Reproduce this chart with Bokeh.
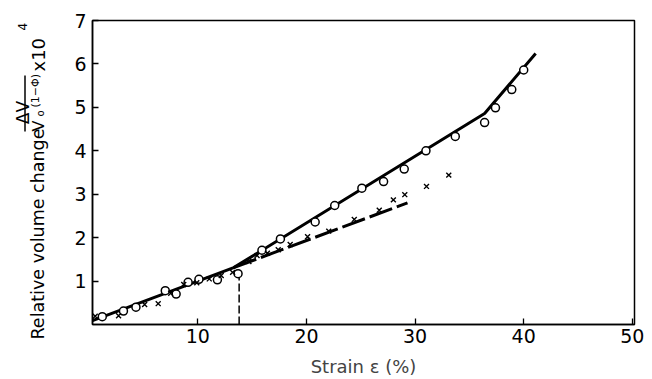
import math
from bokeh.plotting import figure
from bokeh.models import Range1d, FixedTicker, Label
from bokeh.layouts import row
from bokeh.embed import file_html
from bokeh.resources import INLINE

# Data
circle_x = [1.2, 3.15, 4.3, 7.0, 8.0, 9.1, 10.1, 11.8, 13.7, 15.9, 17.6, 20.8, 22.6,
            25.1, 27.1, 29.0, 31.0, 33.7, 36.4, 37.4, 38.9, 40.0]
circle_y = [0.18, 0.31, 0.40, 0.78, 0.70, 0.97, 1.04, 1.03, 1.17, 1.71, 1.97, 2.36, 2.74,
            3.14, 3.29, 3.58, 4.00, 4.33, 4.65, 4.99, 5.41, 5.86]
cross_x = [0.55, 2.7, 5.1, 6.35, 7.5, 8.7, 9.9, 11.05, 12.15, 13.2, 14.7, 15.45, 16.4,
           17.4, 18.5, 20.1, 22.05, 24.4, 26.7, 28.0, 29.05, 31.05, 33.1]
cross_y = [0.19, 0.20, 0.46, 0.48, 0.72, 0.92, 0.96, 1.05, 1.13, 1.20, 1.45, 1.59, 1.64,
           1.72, 1.84, 2.02, 2.15, 2.42, 2.63, 2.87, 2.99, 3.18, 3.44]
fit_solid_x = [0.3, 13.3, 36.4, 41.1]
fit_solid_y = [0.09, 1.31, 4.86, 6.24]
fit_dash_x = [13.3, 29.3]
fit_dash_y = [1.31, 2.80]
marker_line_x = [13.8, 13.8]
marker_line_y = [0.0, 1.2]
x_ticks = [10, 20, 30, 40, 50]
y_ticks = [1, 2, 3, 4, 5, 6, 7]

W, H = 652, 379
LW = 55  # width of the strip holding the y-axis title
FONT = "DejaVu Sans"

# ---- main chart ----
p = figure(width=W - LW, height=H, output_backend="svg", toolbar_location=None,
           x_range=Range1d(0.3, 50.2), y_range=Range1d(0, 7),
           min_border_left=92 - LW, min_border_right=18, min_border_top=20,
           min_border_bottom=54)
p.grid.visible = False
p.background_fill_color = "white"
p.border_fill_color = "white"
p.outline_line_color = "black"
p.outline_line_width = 1.5

for ax in (p.xaxis[0], p.yaxis[0]):
    ax.axis_line_width = 1.5
    ax.axis_line_color = "black"
    ax.major_tick_in = 6
    ax.major_tick_out = 0
    ax.major_tick_line_width = 1.3
    ax.minor_tick_line_color = None
    ax.major_label_text_font = FONT
    ax.major_label_text_font_size = "19px"
    ax.major_label_text_color = "black"

p.xaxis[0].ticker = FixedTicker(ticks=x_ticks)
p.yaxis[0].ticker = FixedTicker(ticks=y_ticks)
p.xaxis[0].major_label_standoff = 4
p.yaxis[0].major_label_standoff = 6
p.xaxis[0].axis_label = "Strain ε (%)"
p.xaxis[0].axis_label_text_font = FONT
p.xaxis[0].axis_label_text_font_style = "normal"
p.xaxis[0].axis_label_text_font_size = "18px"
p.xaxis[0].axis_label_standoff = 10

p.line(fit_solid_x, fit_solid_y, line_color="black", line_width=3)
p.line(fit_dash_x, fit_dash_y, line_color="black", line_width=3, line_dash="24 5")
p.line(marker_line_x, marker_line_y, line_color="black", line_width=1.5, line_dash="8 3")

p.scatter(circle_x, circle_y, marker="circle", size=8, line_color="black",
          line_width=1.5, fill_color="white")
p.scatter(cross_x, cross_y, marker="x", size=7, line_color="black", line_width=1.4)

# ---- strip for the composite y-axis title (page px coordinates) ----
q = figure(width=LW, height=H, output_backend="svg", toolbar_location=None,
           x_range=Range1d(0, LW), y_range=Range1d(H, 0), min_border=0)
q.axis.visible = False
q.grid.visible = False
q.outline_line_color = None
q.background_fill_color = "white"
q.border_fill_color = "white"
try:
    q.frame_align = False
except Exception:
    pass

DX = -5


def lab(text, x, y_top, size, align="left", font=FONT):
    q.add_layout(Label(x=x + DX, y=y_top, text=text, angle=math.pi / 2, text_align=align,
                       text_baseline="alphabetic", text_font=font,
                       text_font_size=size, text_color="black"))


lab("Relative volume change", 42, 339, "17.5px")
lab("ΔV", 27, 112, "17px", align="center")
lab("V", 43, 131, "16px")
lab("o", 45, 116, "10px")
lab("(1−Φ)", 40, 107, "11px")
lab("x10", 43, 71, "18px")
lab("4", 27, 30, "12px")
q.line([29.5 + DX, 29.5 + DX], [75, 131], line_color="black", line_width=1.5)

layout = row(q, p)
open("out.html", "w").write(file_html(layout, INLINE))
